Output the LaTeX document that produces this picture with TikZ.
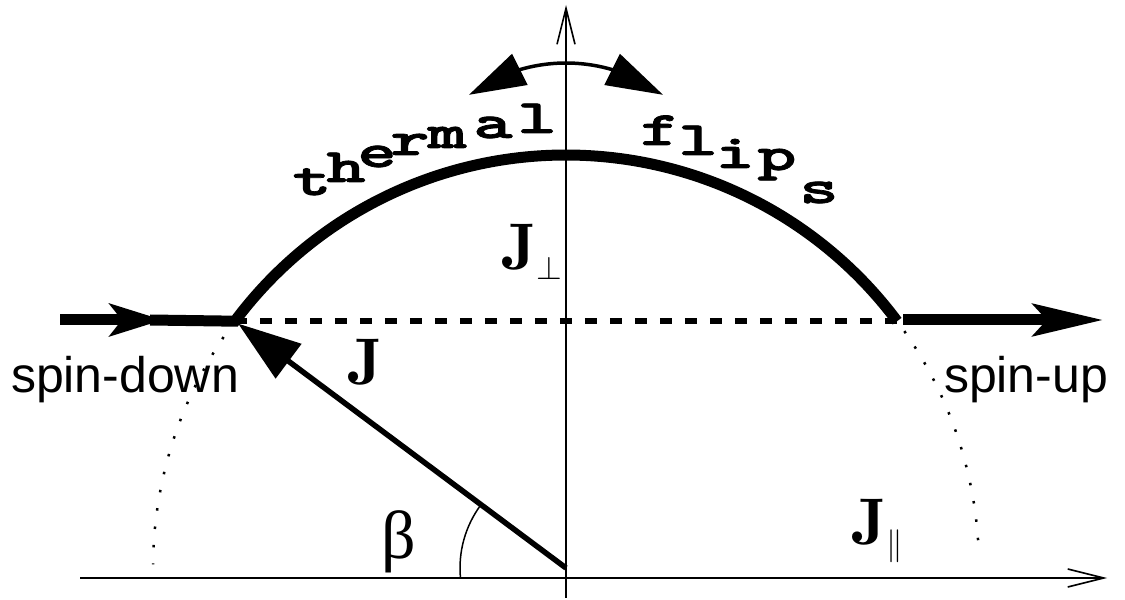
\RequirePackage{fix-cm}
\documentclass[tikz,border=0pt]{standalone}
\usepackage{fontspec}
\usepackage{graphicx}
\usetikzlibrary{arrows.meta, bending}
\newfontfamily\helvetica{Liberation Sans}
\newfontfamily\tiempos{Liberation Serif}
\newfontfamily\maquina[FakeBold=1.5]{lmmonolt10-bold.otf}

\begin{document}
\begin{tikzpicture}[x=1pt, y=1pt,
    eje/.style={line width=1.6pt, -{Straight Barb[length=36pt, width=18pt]}},
    grueso/.style={line width=11pt},
    punteado/.style={line width=2.5pt, dash pattern=on 2.5pt off 16pt},
    letra/.style={anchor=base, inner sep=0pt, font=\fontsize{48}{48}\selectfont\maquina},
    rotulo/.style={anchor=base, inner sep=0pt, font=\fontsize{50}{50}\selectfont\helvetica},
    vector/.style={anchor=base west, inner sep=0pt, font=\fontsize{66}{66}\selectfont}]
  \useasboundingbox (0,0) rectangle (1125,600);
  % los ejes
  \draw[eje] (80,22) -- (1107,22);
  \draw[eje] (566,2) -- (566,595);
  % el origen y los extremos del arco
  \coordinate (O) at (566,32);
  \path (O) ++(143.3:413) coordinate (A);
  \path (O) ++(36.7:413) coordinate (B);
  \coordinate (C) at (566,373);
  % la raya discontinua entre los dos extremos
  \draw[line width=6pt, dash pattern=on 12pt off 13pt] (A) -- (B);
  % las flechas gruesas y el arco de arriba
  \draw[grueso, -{Stealth[length=53pt, width=32pt, inset=12pt]}] (60,280) -- (163,280);
  \draw[grueso, line join=miter] (150,280) -- (A) arc[start angle=143.3, end angle=36.7, radius=413];
  \draw[grueso, -{Stealth[length=70pt, width=32pt, inset=14pt]}] (903,280) -- (1103,280);
  % lo que queda del circulo, en puntos
  \draw[punteado] (O) ++(146:413) arc[start angle=146, end angle=179.5, radius=413];
  \draw[punteado] (O) ++(35:413) arc[start angle=35, end angle=2, radius=413];
  % el vector J y su angulo
  \draw[line width=5.5pt, shorten >=4pt, -{Triangle[length=63pt, width=42pt]}] (O) -- (A);
  \draw[line width=1.5pt] (O) ++(143.3:106) arc[start angle=143.3, end angle=185.5, radius=106];
  % la doble flecha de arriba
  \draw[line width=3.5pt, {Triangle[length=57pt, width=34pt]}-{Triangle[length=57pt, width=34pt]}]
    (C) ++(126.3:164) arc[start angle=126.3, end angle=53.7, radius=164];
  % las letras sueltas
  \foreach \c/\x/\y [count=\i] in {t/312/405, h/346/418, e/377/433, r/410/445, m/447/452, a/493/462, l/537/467,
                                   f/660/455, l/698/445, i/735/432, p/777/430, s/819/397} {
    \node[letra] (letra\i) at (\x,\y) {\scalebox{1.55}[1]{\c}};
  }
  % los rotulos
  \node[rotulo] (abajo) at (125,207) {spin-down};
  \node[rotulo] (arriba) at (1026,207) {spin-up};
  \node[vector] (jota) at (348,215) {$\mathbf{J}$};
  \node[vector] (jperp) at (502,330) {$\mathbf{J}_{\scriptscriptstyle\perp}$};
  \node[vector] (jpar) at (852,55) {$\mathbf{J}_{\scriptscriptstyle\parallel}$};
  \node[anchor=base, inner sep=0pt, font=\fontsize{68}{68}\selectfont\tiempos] (beta) at (399,41) {β};
\end{tikzpicture}
\end{document}
